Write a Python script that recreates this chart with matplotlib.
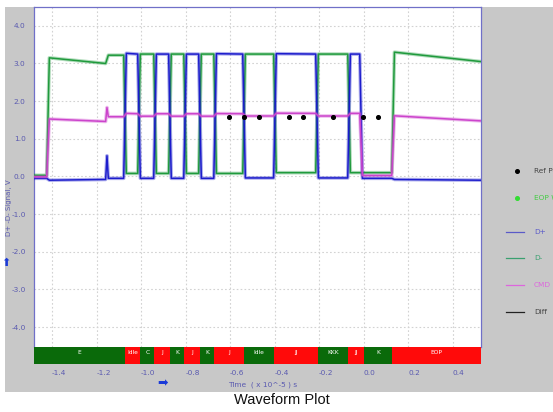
import numpy as np
import matplotlib
matplotlib.use('Agg')
import matplotlib.pyplot as plt
from matplotlib.patches import Rectangle
from matplotlib.lines import Line2D
import matplotlib.patheffects as pe

plt.rcParams['font.family'] = ['DejaVu Sans']

# edges where the bus state changes (x 10^-5 s)
edge_t = [-1.418, -1.153, -1.072, -1.009, -0.937, -0.870, -0.802, -0.735,
          -0.667, -0.537, -0.398, -0.209, -0.065, -0.011, 0.133]
# level of D+ and D- at start / end of each segment (V)
dp_start = [-0.05, -0.10, -0.05, 3.27, -0.05, 3.25, -0.05, 3.25, -0.05, 3.26, -0.04, 3.26, -0.04, 3.25, -0.05, -0.08]
dp_end = [-0.05, -0.08, -0.05, 3.25, -0.05, 3.25, -0.05, 3.25, -0.05, 3.25, -0.04, 3.25, -0.04, 3.25, -0.05, -0.10]
dm_start = [0.03, 3.15, 3.22, 0.08, 3.25, 0.08, 3.25, 0.08, 3.25, 0.08, 3.25, 0.10, 3.25, 0.10, 0.10, 3.30]
dm_end = [0.03, 3.00, 3.22, 0.08, 3.25, 0.08, 3.25, 0.08, 3.25, 0.08, 3.25, 0.10, 3.25, 0.10, 0.10, 3.05]
glitch_t = -1.153
glitch_dp = 0.55

ref_t = [-0.604, -0.537, -0.471, -0.337, -0.271, -0.137, -0.004, 0.063]
ref_v = [1.58] * len(ref_t)

bar_edges = [-1.072, -1.004, -0.940, -0.872, -0.805, -0.737, -0.670, -0.537,
             -0.404, -0.204, -0.070, 0.002, 0.130]
bar_labels = ['E', 'Idle', 'C', 'J', 'K', 'J', 'K', 'J', 'Idle', 'JJ', 'KKK', 'JJ', 'K', 'EOP']
bar_colors = ['g', 'r', 'g', 'r', 'g', 'r', 'g', 'r', 'g', 'r', 'g', 'r', 'g', 'r']

x_ticks = [-1.4, -1.2, -1.0, -0.8, -0.6, -0.4, -0.2, 0.0, 0.2, 0.4]
y_ticks = [4, 3, 2, 1, 0, -1, -2, -3, -4]

legend_labels = ['Ref Points', 'EOP Width', 'D+', 'D-', 'CMD', 'Diff']

XMIN, XMAX = -1.481, 0.528
W, H = 553, 412
rise = 0.012

C_DP = '#1c1ccc'
C_DM = '#1f9a3c'
C_CM = '#cc44cc'
C_TXT = '#5a5ab0'


def build(start, end, glitch=None):
    t, v = [XMIN], [start[0]]
    for i, te in enumerate(edge_t):
        t.append(te - rise / 2)
        v.append(end[i])
        if glitch is not None and abs(te - glitch_t) < 1e-9:
            t.append(te)
            v.append(glitch)
        t.append(te + rise / 2)
        v.append(start[i + 1])
    t.append(XMAX)
    v.append(end[-1])
    return np.array(t), np.array(v)


fig = plt.figure(figsize=(W / 100, H / 100), dpi=100)
fig.patch.set_facecolor('white')
fig.patches.append(Rectangle((5 / W, 20 / H), 548 / W, 385 / H, transform=fig.transFigure,
                             facecolor='#c8c8c8', edgecolor='none', zorder=-5))

ax = fig.add_axes([34 / W, (H - 347) / H, 447 / W, 340 / H])
ax.set_facecolor('white')
ax.set_xlim(XMIN, XMAX)
ax.set_ylim(-4.53, 4.5)
ax.set_xticks(x_ticks)
ax.set_xticklabels([])
ax.set_yticks(y_ticks)
ax.set_yticklabels(['%.1f' % y for y in y_ticks])
ax.tick_params(length=0, labelsize=5.3, labelcolor=C_TXT, pad=6)
ax.grid(True, color='#d2d2d2', linestyle=(0, (1.5, 2)), linewidth=0.8)
for s in ax.spines.values():
    s.set_color('#7070c8')
    s.set_linewidth(0.9)
ax.spines['bottom'].set_visible(False)

fuzz = lambda c: [pe.Stroke(linewidth=2.6, foreground=c, alpha=0.35), pe.Normal()]

t_p, v_p = build(dp_start, dp_end, glitch_dp)
t_m, v_m = build(dm_start, dm_end, None)
# common-mode is the mean of D+ and D- on a shared time base
t_c = np.union1d(t_p, t_m)
v_c = (np.interp(t_c, t_p, v_p) + np.interp(t_c, t_m, v_m)) / 2

ax.plot(t_m, v_m, color=C_DM, lw=1.1, path_effects=fuzz(C_DM), zorder=3)
ax.plot(t_p, v_p, color=C_DP, lw=1.1, path_effects=fuzz(C_DP), zorder=4)
ax.plot(t_c, v_c, color=C_CM, lw=1.1, path_effects=fuzz(C_CM), zorder=5)
ax.scatter(ref_t, ref_v, s=7, color='black', zorder=6)

# decoded symbol bar
bx = fig.add_axes([34 / W, (H - 364) / H, 447 / W, 17 / H])
bx.set_xlim(XMIN, XMAX)
bx.set_ylim(0, 1)
bounds = [XMIN] + bar_edges + [XMAX]
for i, lab in enumerate(bar_labels):
    col = '#0a6a0a' if bar_colors[i] == 'g' else '#ff0a0a'
    bx.axvspan(bounds[i], bounds[i + 1], color=col, lw=0)
    bx.text((bounds[i] + bounds[i + 1]) / 2, 0.66, lab, color='white', fontsize=4.2,
            ha='center', va='center')
for s in bx.spines.values():
    s.set_visible(False)
bx.set_yticks([])
bx.set_xticks(x_ticks)
bx.set_xticklabels(['%.1f' % x for x in x_ticks])
bx.tick_params(length=0, labelsize=5.3, labelcolor=C_TXT, pad=4)
for lbl in bx.get_xticklabels():
    lbl.set_ha('left')

# axis texts
fig.text(9 / W, 1 - 208 / H, 'D+ -D- Signal, V', rotation=90, fontsize=5.0,
         color=C_TXT, ha='center', va='center')
fig.text(263 / W, 1 - 385 / H, 'Time  ( x 10^-5 ) s', fontsize=5.3, color=C_TXT,
         ha='center', va='center')
fig.text(6 / W, 1 - 263 / H, '⬆', fontsize=8, color='#1a3ad8', ha='center', va='center')
fig.text(163 / W, 1 - 384 / H, '➡', fontsize=9, color='#1a3ad8', ha='center', va='center')
fig.text(282 / W, 1 - 400 / H, 'Waveform Plot', fontsize=10.5, family='Liberation Sans',
         ha='center', va='center', color='#111111')

# legend at the right (labels run off the panel edge as in the source)
leg_y = [171, 198, 232, 258, 285, 312]
leg_col = ['black', '#33dd33', '#5a5ac8', '#3aa070', '#dd66dd', '#222222']
leg_txt = ['#444444', '#44cc44', '#5a5ac8', '#3aa070', '#dd66dd', '#444444']
for i, lab in enumerate(legend_labels):
    yy = 1 - leg_y[i] / H
    if i < 2:
        fig.add_artist(Line2D([517 / W], [yy], marker='o', ms=2.6, color=leg_col[i], lw=0))
    else:
        fig.add_artist(Line2D([506 / W, 524 / W], [yy, yy], color=leg_col[i], lw=0.9))
    fig.text(534 / W, yy, lab, fontsize=5.3, color=leg_txt[i], va='center', ha='left')

fig.savefig('out.png', dpi=100)
